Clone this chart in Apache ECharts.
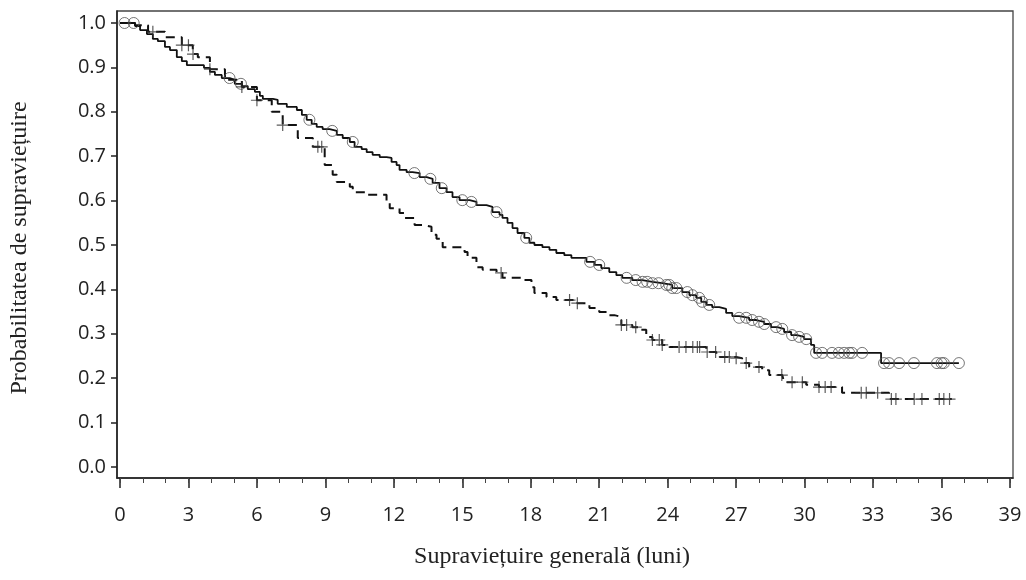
<!DOCTYPE html>
<html>
<head>
<meta charset="utf-8">
<script src="https://cdn.jsdelivr.net/npm/echarts@6/dist/echarts.min.js"></script>
<style>
  html, body { margin: 0; padding: 0; background: #fff; }
  #chart { width: 1026px; height: 580px; }
</style>
</head>
<body>
<div id="chart"></div>
<script>
// ---- Data (months, survival probability) ----
const solidTimes = [0, 0.66, 0.88, 1.18, 1.44, 1.66, 1.97, 2.19, 2.49, 2.71,
  2.93, 3.68, 3.94, 4.16, 4.46, 4.81, 5.03, 5.34, 5.6, 5.91,
  6.13, 6.26, 6.70, 6.91, 7.31, 7.75, 7.97, 8.18, 8.4, 8.62,
  8.88, 9.19, 9.5, 9.76, 10.07, 10.28, 10.59, 10.81, 11.07, 11.38,
  11.68, 11.9, 12.12, 12.25, 12.56, 12.82, 13.13, 13.44, 13.7, 14.0,
  14.31, 14.57, 14.88, 15.32, 15.62, 16.06, 16.32, 16.63, 16.76, 16.98,
  17.2, 17.42, 17.72, 17.94, 18.16, 18.51, 18.82, 19.12, 19.47, 19.78,
  20.44, 20.79, 21.09, 21.44, 21.75, 22.01, 22.45, 22.89, 23.33, 23.76,
  24.2, 24.64, 24.95, 25.25, 25.47, 25.69, 25.95, 26.26, 26.56, 26.83,
  27.13, 27.57, 27.88, 28.23, 28.53, 28.8, 29.1, 29.41, 29.67, 29.98,
  30.28, 30.42, 33.35, 36.76];
const solidSurv = [1.0, 0.993, 0.984, 0.975, 0.964, 0.959, 0.946, 0.939, 0.923, 0.914,
  0.905, 0.899, 0.89, 0.883, 0.876, 0.872, 0.863, 0.858, 0.851, 0.845,
  0.836, 0.829, 0.827, 0.818, 0.811, 0.804, 0.793, 0.782, 0.773, 0.766,
  0.761, 0.757, 0.748, 0.741, 0.732, 0.721, 0.716, 0.709, 0.703, 0.698,
  0.696, 0.687, 0.680, 0.669, 0.664, 0.662, 0.653, 0.649, 0.640, 0.628,
  0.619, 0.608, 0.601, 0.597, 0.590, 0.586, 0.574, 0.568, 0.561, 0.55,
  0.538, 0.527, 0.516, 0.505, 0.5, 0.495, 0.489, 0.482, 0.477, 0.471,
  0.462, 0.455, 0.448, 0.439, 0.432, 0.426, 0.421, 0.417, 0.414, 0.41,
  0.403, 0.394, 0.387, 0.381, 0.372, 0.365, 0.360, 0.356, 0.347, 0.340,
  0.336, 0.331, 0.327, 0.322, 0.315, 0.311, 0.304, 0.297, 0.293, 0.288,
  0.275, 0.257, 0.234, 0.234];
const solidCensor = [0.2, 0.6, 4.8, 5.3, 8.3, 9.3, 10.2, 12.9, 13.6, 14.1, 15.0, 15.4, 16.5, 17.8, 20.6, 21.0, 22.2, 22.6, 22.9, 23.1, 23.33, 23.6, 23.94, 24.07, 24.2, 24.38, 24.86, 25.08, 25.38, 25.51, 25.82, 27.13, 27.44, 27.7, 28.0, 28.23, 28.75, 29.02, 29.45, 29.76, 30.07, 30.5, 30.77, 31.2, 31.5, 31.73, 31.95, 32.08, 32.52, 33.48, 33.7, 34.14, 34.79, 35.8, 36.0, 36.1, 36.76];

const dashTimes = [0, 0.66, 1.23, 1.97, 2.71, 3.19, 3.41, 3.94, 4.6, 5.34, 6.0, 6.65, 7.13, 7.79, 8.45, 8.97, 9.32, 9.5, 10.07, 10.2, 10.81, 11.68, 11.82, 12.25, 12.47, 12.91, 13.26, 13.65, 13.87, 14.14, 15.1, 15.23, 15.62, 15.89, 16.5, 16.76, 17.64, 18.03, 18.16, 18.69, 19.12, 20.04, 20.57, 21.0, 21.44, 21.66, 21.97, 22.45, 22.76, 23.06, 23.33, 23.76, 24.07, 25.69, 26.13, 27.0, 27.26, 27.57, 28.14, 28.45, 29.02, 29.1, 30.07, 30.63, 31.64, 33.7, 36.45];
const dashSurv = [1.0, 0.995, 0.98, 0.968, 0.95, 0.93, 0.923, 0.896, 0.872, 0.856, 0.826, 0.80, 0.77, 0.741, 0.721, 0.68, 0.658, 0.642, 0.631, 0.619, 0.613, 0.595, 0.583, 0.572, 0.561, 0.545, 0.541, 0.523, 0.514, 0.495, 0.484, 0.471, 0.45, 0.444, 0.437, 0.426, 0.421, 0.405, 0.392, 0.383, 0.376, 0.369, 0.358, 0.349, 0.342, 0.338, 0.320, 0.315, 0.309, 0.293, 0.286, 0.275, 0.270, 0.259, 0.248, 0.245, 0.234, 0.225, 0.218, 0.207, 0.203, 0.191, 0.185, 0.180, 0.167, 0.153, 0.153];
const dashCensor = [1.44, 2.71, 3.0, 3.2, 3.94, 5.34, 6.0, 7.13, 8.67, 8.84, 16.7, 19.7, 20.04, 21.97, 22.2, 22.6, 23.33, 23.63, 23.76, 24.5, 24.8, 25.1, 25.3, 25.4, 25.73, 26.1, 26.5, 26.7, 27.0, 27.44, 28.0, 29.0, 29.45, 29.9, 30.63, 30.9, 31.16, 32.48, 32.7, 33.2, 33.8, 34.0, 34.8, 35.14, 35.9, 36.1, 36.35];

const xTicks = [0, 3, 6, 9, 12, 15, 18, 21, 24, 27, 30, 33, 36, 39];
const yTicks = [0.0, 0.1, 0.2, 0.3, 0.4, 0.5, 0.6, 0.7, 0.8, 0.9, 1.0];
const xTitle = 'Supraviețuire generală (luni)';
const yTitle = 'Probabilitatea de supraviețuire';

// Kaplan-Meier: a censored subject sits on the curve value at its time
function survAt(times, surv, t) {
  let v = surv[0];
  for (let i = 0; i < times.length; i++) { if (times[i] <= t) v = surv[i]; else break; }
  return v;
}
const solidLine = solidTimes.map((t, i) => [t, solidSurv[i]]);
const dashLine = dashTimes.map((t, i) => [t, dashSurv[i]]);
const solidMarks = solidCensor.map(t => [t, survAt(solidTimes, solidSurv, t)]);
const dashMarks = dashCensor.map(t => [t, survAt(dashTimes, dashSurv, t)]);
const xMinorTicks = [];
for (let m = xTicks[0]; m <= xTicks[xTicks.length - 1]; m++) xMinorTicks.push(m);

// axis frame is slightly wider than the tick range (SAS style padding)
const xPad = 0.131, yPadLow = 0.0248, yPadHigh = 0.027;

const chart = echarts.init(document.getElementById('chart'), null, { renderer: 'canvas' });
const labelFont = { fontFamily: 'Open Sans', fontSize: 20, color: '#222' };
chart.setOption({
  animation: false,
  backgroundColor: '#fff',
  grid: { left: 117, right: 13, top: 11, bottom: 102, containLabel: false,
          show: true, borderColor: '#444', borderWidth: 1.3, backgroundColor: 'transparent' },
  xAxis: [{
    type: 'value', min: xTicks[0] - xPad, max: xTicks[xTicks.length - 1] + xPad,
    axisLine: { show: true, onZero: false, lineStyle: { color: '#222', width: 1.6 } },
    axisTick: { show: true, inside: false, length: 10, customValues: xTicks, lineStyle: { color: '#222', width: 1.5 } },
    axisLabel: Object.assign({ margin: 27, customValues: xTicks, formatter: v => String(v) }, labelFont),
    splitLine: { show: false }
  }, {
    type: 'value', position: 'bottom', min: xTicks[0] - xPad, max: xTicks[xTicks.length - 1] + xPad,
    axisLine: { show: false, onZero: false },
    axisTick: { show: true, inside: false, length: 5, customValues: xMinorTicks, lineStyle: { color: '#444', width: 1 } },
    axisLabel: { show: false },
    splitLine: { show: false }
  }],
  yAxis: {
    type: 'value', min: yTicks[0] - yPadLow, max: yTicks[yTicks.length - 1] + yPadHigh,
    axisLine: { show: true, onZero: false, lineStyle: { color: '#222', width: 1.6 } },
    axisTick: { show: true, inside: false, length: 6, customValues: yTicks, lineStyle: { color: '#222', width: 1.5 } },
    axisLabel: Object.assign({ margin: 11, customValues: yTicks, formatter: v => v.toFixed(1) }, labelFont),
    splitLine: { show: false }
  },
  graphic: [
    { type: 'text', x: 552, y: 557, silent: true,
      style: { text: xTitle, font: '24px "Liberation Serif"', fill: '#222', textAlign: 'center', textVerticalAlign: 'middle' } },
    { type: 'text', x: 20, y: 248, rotation: Math.PI / 2, silent: true,
      style: { text: yTitle, font: '24px "Liberation Serif"', fill: '#222', textAlign: 'center', textVerticalAlign: 'middle' } }
  ],
  series: [
    { type: 'line', data: solidLine, step: 'end', showSymbol: false, z: 3,
      lineStyle: { color: '#111', width: 1.8 } },
    { type: 'line', data: dashLine, step: 'end', showSymbol: false, z: 3,
      lineStyle: { color: '#111', width: 2, type: [9, 6] } },
    { type: 'scatter', data: solidMarks, symbol: 'circle', symbolSize: 11, z: 4,
      itemStyle: { color: 'transparent', borderColor: '#555', borderWidth: 1 } },
    { type: 'scatter', data: dashMarks, symbol: 'path://M4.5,0H5.5V10H4.5Z M0,4.5H10V5.5H0Z', symbolSize: 12, z: 4,
      itemStyle: { color: '#333' } }
  ]
});
</script>
</body>
</html>
